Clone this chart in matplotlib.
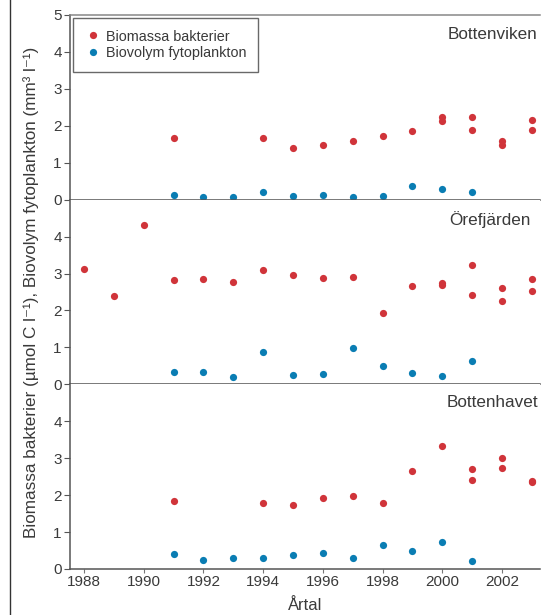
import numpy as np
import matplotlib.pyplot as plt
from matplotlib.lines import Line2D

plt.rcParams['font.family'] = ['Liberation Sans', 'DejaVu Sans']

# Bottenviken
bv_bakt_ar = [1991, 1994, 1995, 1996, 1997, 1998, 1999, 2000, 2000, 2001, 2001, 2002, 2002, 2003, 2003]
bv_bakt = [1.68, 1.68, 1.40, 1.49, 1.58, 1.72, 1.87, 2.24, 2.12, 2.24, 1.89, 1.60, 1.49, 2.16, 1.88]
bv_fyto_ar = [1991, 1992, 1993, 1994, 1995, 1996, 1997, 1998, 1999, 2000, 2001]
bv_fyto = [0.13, 0.07, 0.07, 0.21, 0.10, 0.12, 0.06, 0.11, 0.38, 0.29, 0.22]

# Örefjärden
of_bakt_ar = [1988, 1989, 1990, 1991, 1992, 1993, 1994, 1995, 1996, 1997, 1998, 1999,
              2000, 2000, 2001, 2001, 2002, 2002, 2003, 2003]
of_bakt = [3.11, 2.40, 4.31, 2.82, 2.85, 2.78, 3.10, 2.97, 2.87, 2.90, 1.94, 2.66,
           2.75, 2.68, 3.23, 2.42, 2.62, 2.26, 2.85, 2.54]
of_fyto_ar = [1991, 1992, 1993, 1994, 1995, 1996, 1997, 1998, 1999, 2000, 2001]
of_fyto = [0.34, 0.34, 0.21, 0.87, 0.24, 0.27, 0.99, 0.49, 0.30, 0.23, 0.62]

# Bottenhavet
bh_bakt_ar = [1991, 1994, 1995, 1996, 1997, 1998, 1999, 2000, 2001, 2001, 2002, 2002, 2003, 2003]
bh_bakt = [1.83, 1.80, 1.73, 1.92, 1.98, 1.79, 2.65, 3.33, 2.70, 2.42, 3.01, 2.73, 2.39, 2.35]
bh_fyto_ar = [1991, 1992, 1993, 1994, 1995, 1996, 1997, 1998, 1999, 2000, 2001]
bh_fyto = [0.41, 0.25, 0.31, 0.31, 0.38, 0.42, 0.30, 0.66, 0.50, 0.74, 0.21]

paneler = [("Bottenviken", bv_bakt_ar, bv_bakt, bv_fyto_ar, bv_fyto),
           ("Örefjärden", of_bakt_ar, of_bakt, of_fyto_ar, of_fyto),
           ("Bottenhavet", bh_bakt_ar, bh_bakt, bh_fyto_ar, bh_fyto)]
# placering av panelnamn (x i axelbråk, y i axelbråk)
namn_pos = [(0.995, 0.895), (0.98, 0.895), (0.997, 0.9)]

rod = "#d0343a"
bla = "#0a7db3"
textfarg = "#3a3a3a"

W, H = 542, 615
fig = plt.figure(figsize=(W / 100, H / 100), dpi=100)
fig.add_artist(Line2D([10 / W, 10 / W], [0, 1], color="#333333", lw=1.0))

left, right = 70 / W, 540 / W
top, bottom = 1 - 15 / H, 1 - 569 / H
ph = (top - bottom) / 3

axes = []
for i, (namn, bx, by, fx, fy) in enumerate(paneler):
    ax = fig.add_axes([left, top - (i + 1) * ph, right - left, ph])
    axes.append(ax)
    ax.plot(bx, by, "o", color=rod, ms=5.2, mec="none", label="Biomassa bakterier")
    ax.plot(fx, fy, "o", color=bla, ms=5.2, mec="none", label="Biovolym fytoplankton")
    ax.set_xlim(1987.53, 2003.27)
    ax.set_ylim(0, 5)
    ax.set_yticks(range(0, 6) if i == 0 else range(0, 5))
    ax.tick_params(axis="y", direction="out", length=4, color="#555555",
                   labelsize=11, labelcolor=textfarg, pad=2)
    ax.spines["right"].set_visible(False)
    ax.spines["left"].set_color("#555555")
    ax.spines["bottom"].set_color("#555555")
    ax.spines["top"].set_color("#888888")
    ax.spines["top"].set_visible(i == 0)
    for s in ax.spines.values():
        s.set_linewidth(1.1)
    nx, ny = namn_pos[i]
    ax.text(nx, ny, namn, transform=ax.transAxes, ha="right", va="center",
            fontsize=12.3, color=textfarg)
    if i < 2:
        ax.set_xticks([])
    else:
        ax.set_xticks(range(1988, 2003, 2))
        ax.tick_params(axis="x", direction="out", length=3, color="#777777",
                       labelsize=11, labelcolor=textfarg, pad=1)
        ax.set_xlabel("Årtal", fontsize=12, color=textfarg, labelpad=7)

leg = axes[0].legend(loc="upper left", bbox_to_anchor=(0.006, 0.984), fontsize=10.4,
                     frameon=True, fancybox=False, handletextpad=0.3, handlelength=1.2,
                     borderpad=0.8, labelspacing=0.2, labelcolor=textfarg,
                     borderaxespad=0)
leg.get_frame().set_edgecolor("#444444")
leg.get_frame().set_linewidth(1.0)

fig.text(31 / W, 1 - 292 / H,
         "Biomassa bakterier (µmol C l⁻¹), Biovolym fytoplankton (mm³ l⁻¹)",
         rotation=90, ha="center", va="center", fontsize=12.3, color=textfarg)

plt.savefig("out.png", dpi=100)
